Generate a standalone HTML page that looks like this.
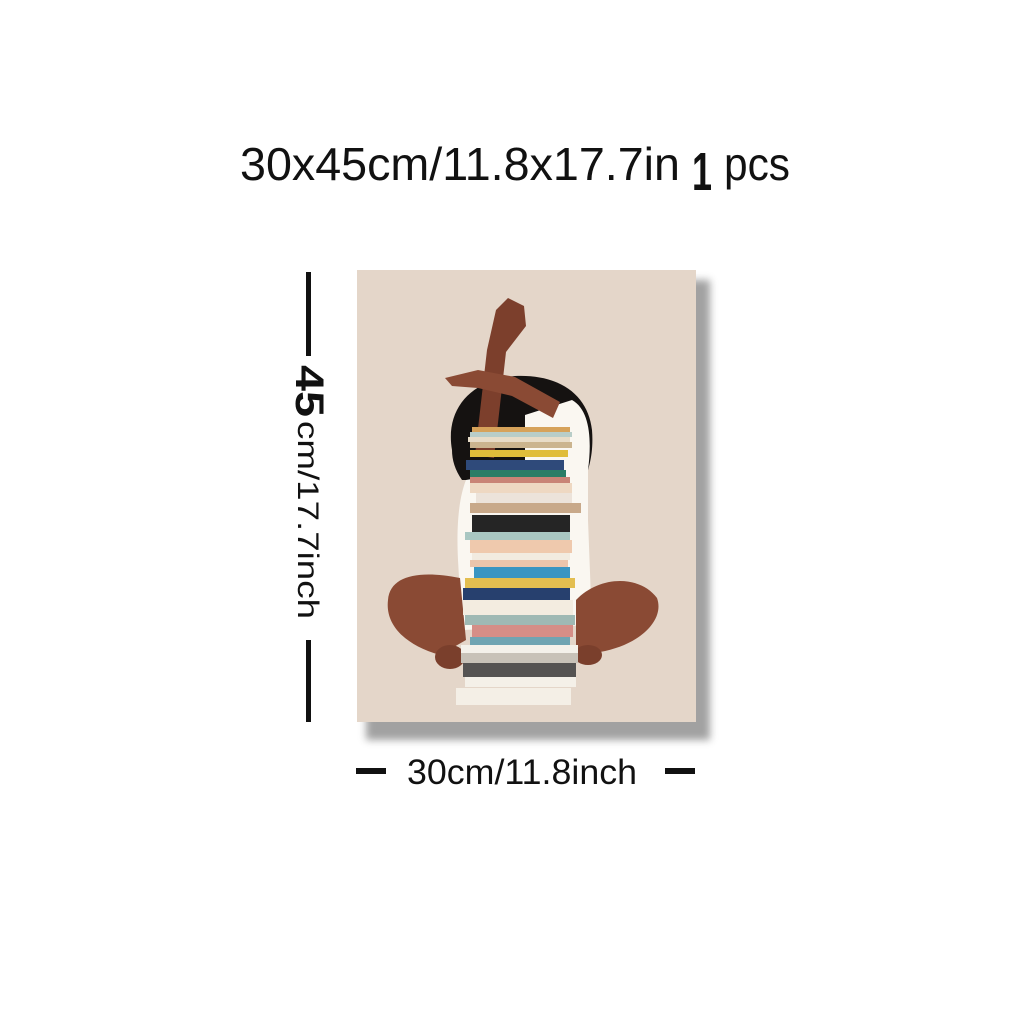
<!DOCTYPE html>
<html><head><meta charset="utf-8"><style>
html,body{margin:0;padding:0;background:#fff;}
svg{display:block;}
text{font-family:"Liberation Sans","DejaVu Sans",sans-serif;fill:#111;}
</style></head><body>
<svg width="1024" height="1024" viewBox="0 0 1024 1024">
<defs>
<filter id="blur" x="-20%" y="-20%" width="140%" height="140%"><feGaussianBlur stdDeviation="4"/></filter>
</defs>
<g>
<text x="240" y="180" font-size="46" textLength="440" lengthAdjust="spacingAndGlyphs">30x45cm/11.8x17.7in</text>
<text x="692" y="190" font-size="54" font-weight="bold" textLength="20" lengthAdjust="spacingAndGlyphs">1</text>
<text x="724" y="180" font-size="46" textLength="66" lengthAdjust="spacingAndGlyphs">pcs</text>
</g>
<g>
<rect x="306" y="272" width="5" height="84" fill="#111"/>
<rect x="306" y="640" width="5" height="82" fill="#111"/>
<text transform="translate(296,365) rotate(90)" font-size="40" font-weight="bold" textLength="52" lengthAdjust="spacingAndGlyphs" y="0" x="0">45</text>
<text transform="translate(296,365) rotate(90)" font-size="30" x="56" y="-2" textLength="198" lengthAdjust="spacingAndGlyphs">cm/17.7inch</text>
</g>
<g>
<rect x="356" y="768" width="30" height="6" fill="#111"/>
<rect x="665" y="768" width="30" height="6" fill="#111"/>
<text x="407" y="784" font-size="35" textLength="230" lengthAdjust="spacingAndGlyphs">30cm/11.8inch</text>
</g>
<g>
<rect x="366" y="280" width="344" height="460" fill="#555" opacity="0.55" filter="url(#blur)"/>
<rect x="357" y="270" width="339" height="452" fill="#e4d6c9"/>
<!-- hair -->
<path d="M452,450 C445,410 470,380 515,376 C560,374 588,395 592,430 C594,455 588,470 585,480 L462,480 C455,470 452,460 452,450 Z" fill="#151211"/>
<!-- shirt -->
<path d="M525,415 L572,400 C590,410 592,440 588,470 L588,520 L592,625 L462,630 L458,560 C456,520 460,495 466,480 L525,470 Z" fill="#faf7f1"/>
<!-- legs -->
<path d="M388,600 C390,575 420,570 460,578 L466,640 L440,655 C405,645 385,625 388,600 Z" fill="#8a4a34"/>
<path d="M576,600 C600,575 640,575 657,598 C665,620 640,645 600,652 L576,660 Z" fill="#8a4a34"/>
<ellipse cx="450" cy="657" rx="15" ry="12" fill="#7a3f2c"/>
<ellipse cx="588" cy="655" rx="14" ry="10" fill="#7a3f2c"/>
<!-- arms -->
<path d="M475,455 L487,350 L496,310 L508,298 L524,306 L526,326 L506,352 L494,458 Z" fill="#7c3f2c"/>
<path d="M445,378 L478,370 L515,377 L560,402 L553,418 L512,396 L478,388 L452,386 Z" fill="#8a4a34"/>
<!-- books -->
<g id="books"></g>
</g>
</svg>
<script>
const bookTops=[427,432,437,442,450,460,470,477,483,493,503,515,532,540,553,560,567,578,588,600,615,625,637,645,653,663,677,688];
const bookBots=[432,437,442,448,457,470,477,483,493,503,513,532,540,553,560,567,578,588,600,615,625,637,645,653,663,677,687,705];
const bookLefts=[472,470,468,470,470,466,470,470,470,476,470,472,465,470,472,470,474,465,463,463,465,472,470,461,461,463,465,456];
const bookRights=[570,572,570,572,568,564,566,570,572,572,581,570,570,572,570,568,570,575,570,573,575,573,570,578,578,576,576,571];
const bookColors=["#d6a25a","#b8cdc8","#e8dcc7","#cbb48e","#e0bd3a","#2f4a7a","#2a7d66","#c98476","#eed8c2","#ece3da","#c8a98a","#252525","#a9c7c2","#efc9ad","#f2ebe0","#ecc5ac","#3a95c2","#e3be50","#27406e","#f3ece0","#9fb9b4","#d58e87","#6fa4b2","#f4f1ea","#c8c2b8","#555352","#f4f0e8","#f4efe6"];
const g=document.getElementById('books');
const NS='http://www.w3.org/2000/svg';
for(let i=0;i<bookTops.length;i++){
  const r=document.createElementNS(NS,'rect');
  r.setAttribute('x',bookLefts[i]);r.setAttribute('y',bookTops[i]);
  r.setAttribute('width',bookRights[i]-bookLefts[i]);r.setAttribute('height',bookBots[i]-bookTops[i]);
  r.setAttribute('fill',bookColors[i]);
  
  
  g.appendChild(r);
}
</script>
</body></html>
